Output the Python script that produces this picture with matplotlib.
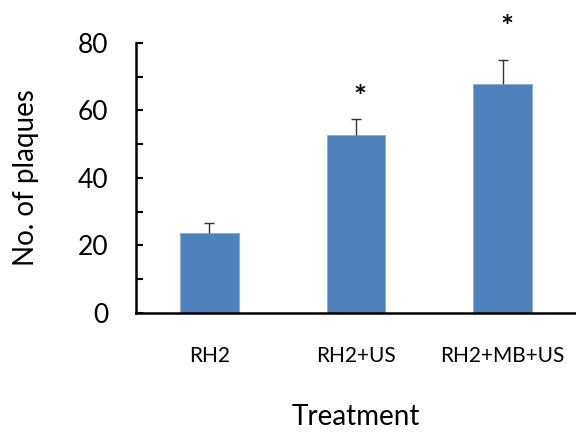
"""Bar chart of plaque counts by treatment."""

import matplotlib
matplotlib.use("Agg")
import matplotlib.pyplot as plt
import numpy as np

treatments = ["RH2", "RH2+US", "RH2+MB+US"]
plaques = [23.5, 52.6, 67.7]
plaques_err = [3.2, 4.7, 7.1]
# height of significance asterisk (None = not significant)
star_y = [None, 63.5, 84.5]

plt.rcParams["font.family"] = ["Lato", "DejaVu Sans"]

fig = plt.figure(figsize=(5.76, 4.32), dpi=100)
ax = fig.add_axes([0.236, 0.276, 0.764, 0.625])

x = np.arange(len(treatments))
ax.bar(x, plaques, width=0.4, color="#4F81BD", edgecolor="#8AAAD6", linewidth=0.6)
_, caps, _ = ax.errorbar(x, plaques, yerr=[np.zeros(len(x)), plaques_err], fmt="none",
                         ecolor="#333333", elinewidth=1, capsize=3.5, capthick=1)
caps[0].set_visible(False)  # only the upper cap

for xi, sy in zip(x, star_y):
    if sy is not None:
        ax.text(xi + 0.03, sy, "*", ha="center", va="center",
                fontsize=22, fontweight="bold", clip_on=False)

ax.set_xlim(-0.5, 2.5)
ax.set_ylim(0, 80)
ax.set_yticks([0, 20, 40, 60, 80])
ax.set_yticks([10, 30, 50, 70], minor=True)
ax.tick_params(axis="y", which="both", direction="in", length=5, width=1.5,
               labelsize=19, pad=20)
ax.tick_params(axis="x", length=0, labelsize=15, pad=24)
ax.set_xticks(x)
ax.set_xticklabels(treatments)

ax.spines["top"].set_visible(False)
ax.spines["right"].set_visible(False)
ax.spines["left"].set_linewidth(1.8)
ax.spines["bottom"].set_linewidth(1.8)

ax.set_ylabel("No. of plaques", fontsize=20, labelpad=28)
ax.set_xlabel("Treatment", fontsize=20, labelpad=27)

fig.savefig("out.png", dpi=100)
